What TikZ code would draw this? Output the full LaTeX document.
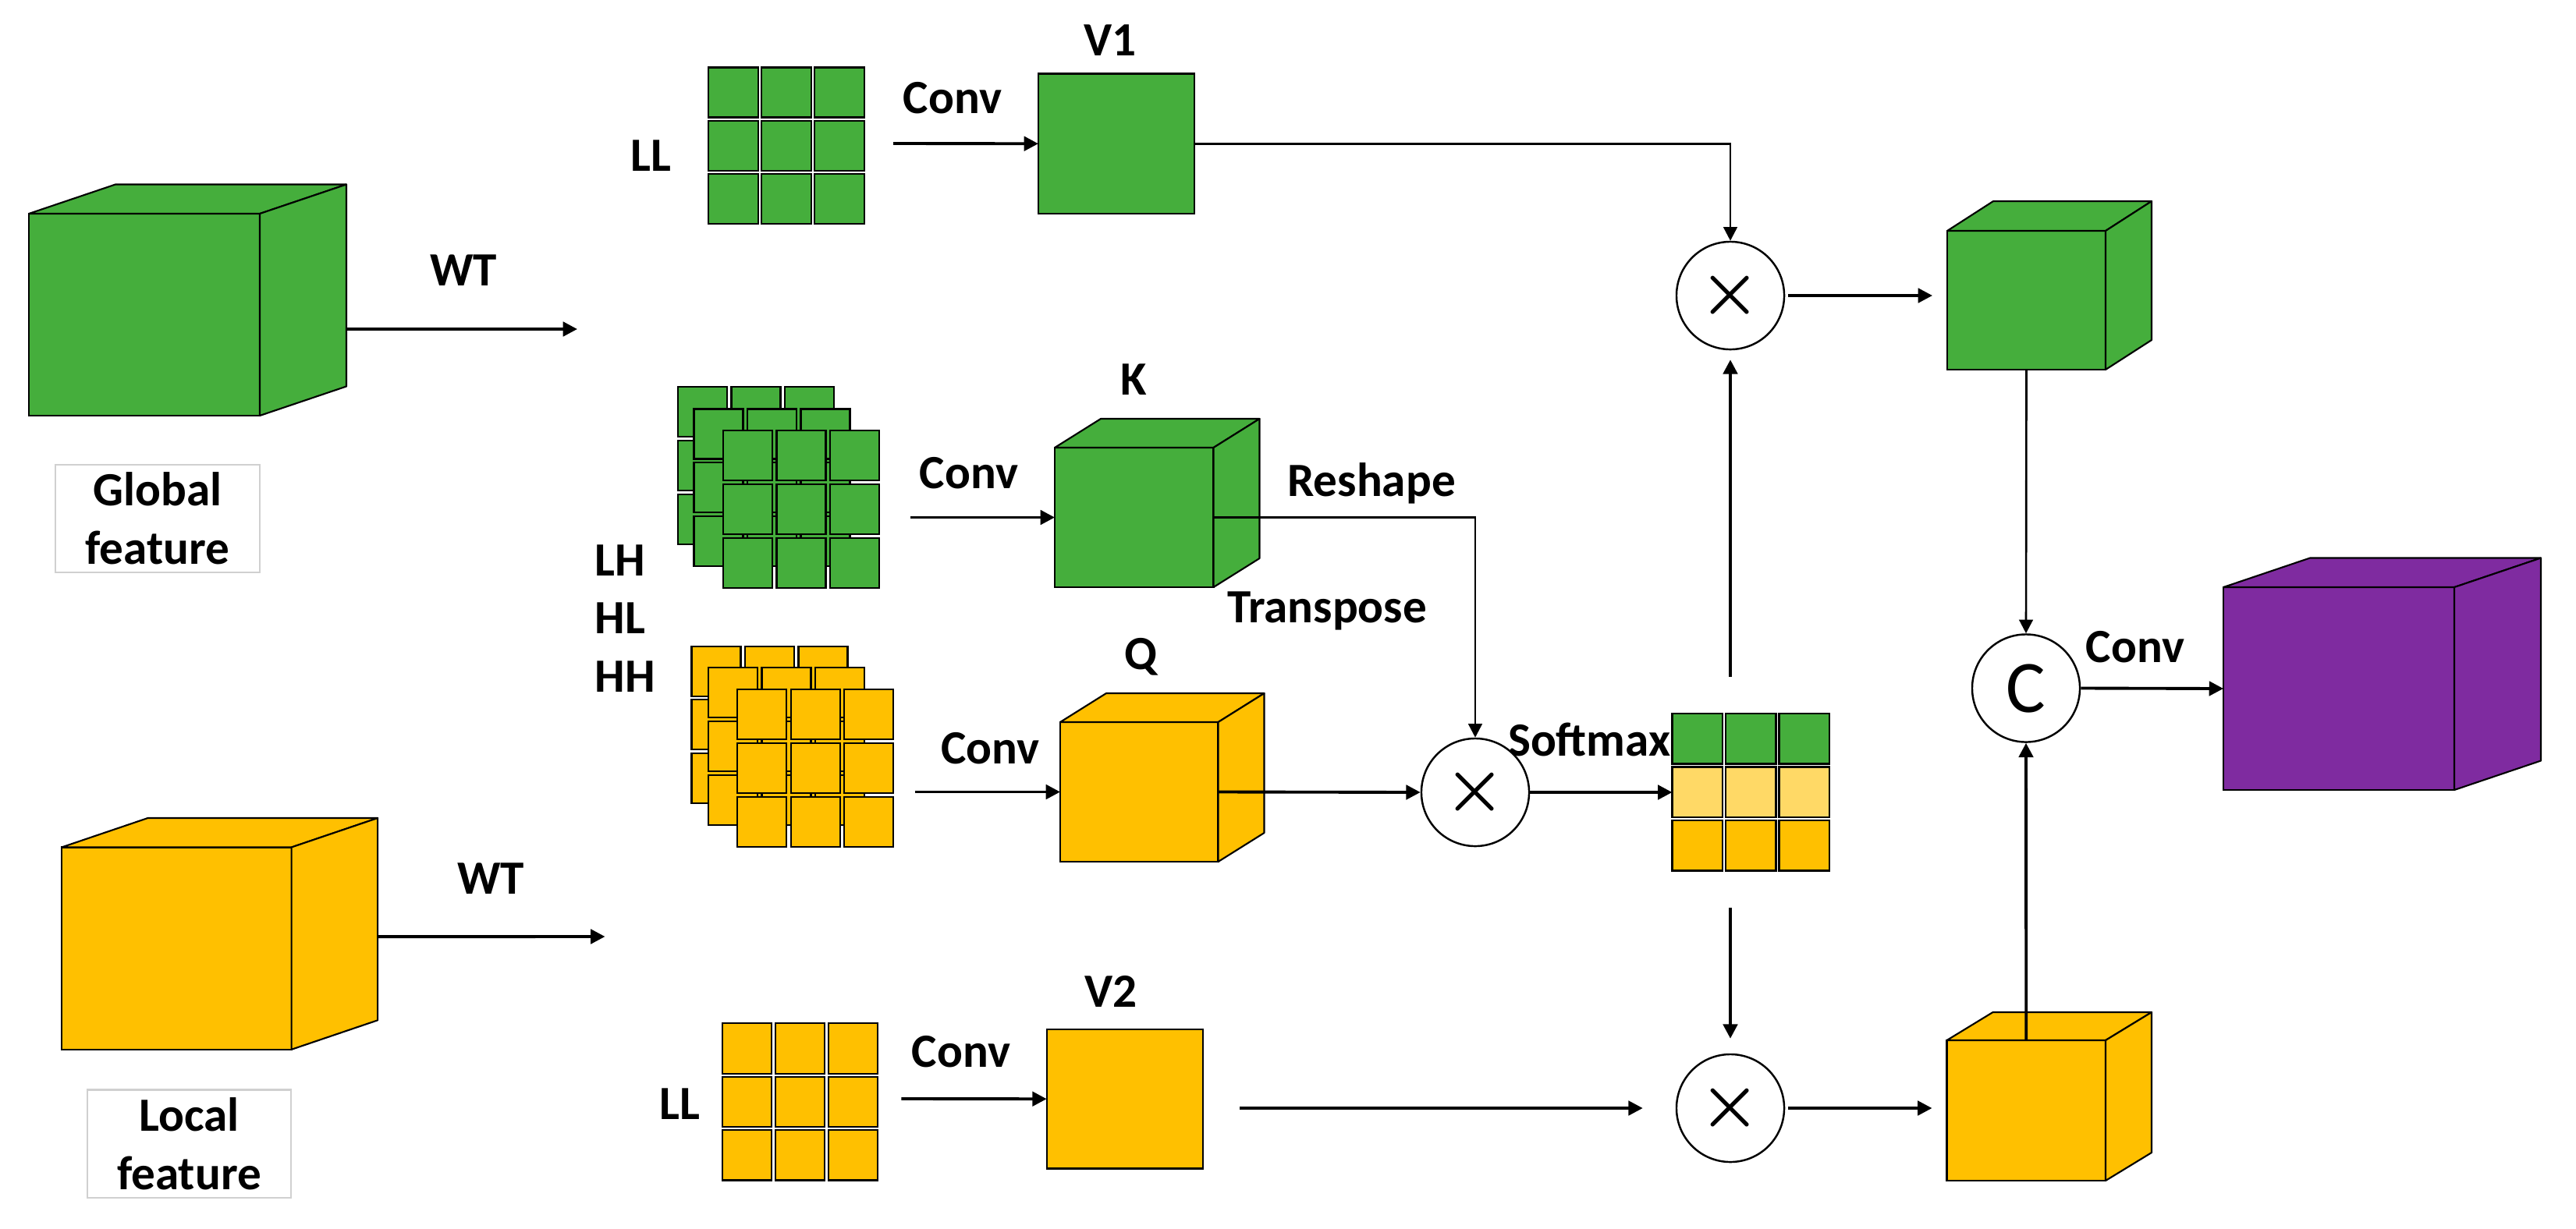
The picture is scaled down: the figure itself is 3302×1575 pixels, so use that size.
\documentclass[tikz,border=0pt]{standalone}
\usepackage{fontspec}
\setmainfont{Carlito}
\usetikzlibrary{arrows.meta,calc}
\definecolor{cgreen}{HTML}{45AE3C}
\definecolor{cyellow}{HTML}{FFC000}
\definecolor{clight}{HTML}{FFD966}
\definecolor{cpurple}{HTML}{7F2BA0}
\definecolor{cboxgray}{HTML}{D0D0D0}
\newcommand\mkcube[8]{%
  \node[facebox, fill=#8, minimum width={(#4-#2)*0.01cm}, minimum height={(#5-#3)*0.01cm}] (#1) at ({(#2+#4)/2},{(#3+#5)/2}) {};
  \draw[cubeline, fill=#8] (#1.north west) -- ++(#6,#7) -- ($(#1.north east)+(#6,#7)$) -- (#1.north east) -- cycle;
  \draw[cubeline, fill=#8] (#1.north east) -- ++(#6,#7) -- ($(#1.south east)+(#6,#7)$) -- (#1.south east) -- cycle;
}
\newcommand\mkgrid[7]{% x0, y0, pitchx, pitchy, w, h, colour
  \foreach \gi in {0,1,2}{\foreach \gj in {0,1,2}{%
    \draw[cell, fill=#7] ({#1+#3*\gi},{#2+#4*\gj}) rectangle ++(#5,#6);}}
}
\begin{document}
\begin{tikzpicture}[x=0.01cm,y=-0.01cm,
  lbl/.style={font=\fontsize{17.4}{21}\selectfont\bfseries, inner sep=0pt, anchor=base},
  facebox/.style={draw=black, line width=0.6pt, inner sep=0pt, outer sep=0pt},
  cubeline/.style={draw=black, line width=0.6pt, line join=round},
  cell/.style={draw=black, line width=0.6pt},
  arr/.style={line width=1.1pt, -{Triangle[length=5.2pt,width=5.2pt]}},
  tarr/.style={line width=0.75pt, -{Triangle[length=5pt,width=5pt]}},
  op/.style={circle, draw=black, line width=0.7pt, minimum size=1.38cm, inner sep=0pt, fill=white},
  featbox/.style={draw=cboxgray, line width=0.6pt, align=center, inner sep=0pt,
    font=\fontsize{17.4}{21.3}\selectfont\bfseries},
  mult/.style={font=\fontsize{25}{25}\selectfont\boldmath},
]
\useasboundingbox[fill=white] (0,0) rectangle (3302,1575);

% input cubes and feature boxes
\mkcube{gcube}{37}{274}{333}{533}{111}{-37.5}{cgreen}
\mkcube{lcube}{79}{1086.5}{373.6}{1345.8}{110.5}{-37.5}{cyellow}
\node[featbox, minimum width=2.62cm, minimum height=1.38cm] (gf) at (202,665) {Global\\feature};
\node[featbox, minimum width=2.6cm, minimum height=1.385cm] (lf) at (242.5,1466.8) {Local\\feature};
\node[lbl] (wt1) at (594,366.6) {WT};
\node[lbl] (wt2) at (629,1146) {WT};
\coordinate (wt1e) at (740,422);
\coordinate (wt2e) at (775.5,1201);

% wavelet sub-bands
\node[lbl] (llA) at (834,219) {LL};
\mkgrid{908}{86.5}{68}{68.3}{64}{64}{cgreen}
\node[lbl, anchor=base west] (lh) at (762,738) {LH};
\node[lbl, anchor=base west] (hl) at (762,812) {HL};
\node[lbl, anchor=base west] (hh) at (762,887.5) {HH};
\mkgrid{869}{496}{68.5}{68.8}{63}{64}{cgreen}
\mkgrid{889.5}{524.5}{68.5}{68.8}{63}{64}{cgreen}
\mkgrid{927}{552}{68.5}{68.8}{63}{64}{cgreen}
\mkgrid{886.5}{828.6}{68.5}{68.8}{63}{64}{cyellow}
\mkgrid{908}{856}{68.5}{68.8}{63}{64}{cyellow}
\mkgrid{945.4}{884}{68.5}{68.8}{63}{64}{cyellow}
\node[lbl] (llB) at (871,1435) {LL};
\mkgrid{926}{1312.4}{68}{68.3}{63}{64.5}{cyellow}

% V1, K, Q, V2
\node[facebox, fill=cgreen, minimum width=2cm, minimum height=1.795cm] (V1) at (1431,184.25) {};
\node[facebox, fill=cyellow, minimum width=1.999cm, minimum height=1.784cm] (V2) at (1441.65,1409.2) {};
\mkcube{K}{1352}{574}{1555.5}{753}{59}{-37}{cgreen}
\mkcube{Q}{1359}{926}{1561.5}{1105}{59}{-37}{cyellow}
\node[lbl] (v1l) at (1423,71) {V1};
\node[lbl] (kl) at (1453,506) {K};
\node[lbl] (ql) at (1462.7,858) {Q};
\node[lbl] (v2l) at (1424,1291.5) {V2};
\node[lbl] (cv1) at (1221,145) {Conv};
\node[lbl] (cv2) at (1242,626) {Conv};
\node[lbl] (cv3) at (1269.5,979) {Conv};
\node[lbl] (cv4) at (1232,1368.5) {Conv};
\node[lbl] (resh) at (1758,636) {Reshape};
\node[lbl] (trans) at (1701,798) {Transpose};
\coordinate (c1) at (1145,184);
\coordinate (c2) at (1167,663.5);
\coordinate (c3) at (1172.7,1015.5);
\coordinate (c4) at (1155.4,1409);

% attention map
\foreach \gj/\col in {0/cgreen,1/clight,2/cyellow}{
  \foreach \gi in {0,1,2}{
    \draw[cell, fill=\col] ({2143.5+68.5*\gi},{915+68.5*\gj}) rectangle ++(64.5,64.5);}}
\node[minimum width=2.02cm, minimum height=2.02cm, inner sep=0pt, outer sep=0pt] (smx) at (2244.5,1016) {};
\node[lbl, anchor=base east] (smxl) at (2142,969) {Softmax};

% operators
\node[op] (mTop) at (2218,379) {};
\node[op] (mMid) at (1891,1016) {};
\node[op] (mBot) at (2218,1421) {};
\node[op] (cat) at (2597,882.5) {};
\node[mult] at (mTop) {$\times$};
\node[mult] at (mMid) {$\times$};
\node[mult] at (mBot) {$\times$};
\node[font=\fontsize{27}{27}\selectfont, inner sep=0pt] at (cat) {C};
\coordinate (up0) at (2218,868);
\coordinate (dn0) at (2218,1164);
\coordinate (v2s) at (1589,1421);

% output cubes
\mkcube{outG}{2496}{296}{2699}{474}{59}{-38}{cgreen}
\mkcube{outY}{2495.5}{1334}{2699}{1514}{59}{-36}{cyellow}
\mkcube{outP}{2850}{753}{3146}{1013}{111}{-37.5}{cpurple}
\node[lbl] (cv5) at (2737,849) {Conv};

% connectors
\draw[arr] ($(gcube.east)+(111,18.5)$) -- (wt1e);
\draw[arr] ($(lcube.east)+(110.5,-15)$) -- (wt2e);
\draw[arr] (c1) -- (V1.west);
\draw[arr] (c2) -- (K.west);
\draw[arr] (c3) -- (Q.west);
\draw[arr] (c4) -- (V2.west);
\draw[tarr] (V1.east) -| (mTop.north);
\draw[tarr] (K.east) -| (mMid.north);
\draw[arr] (Q.east) -- (mMid.west);
\draw[arr] (mMid.east) -- (smx.west);
\draw[arr] (up0) -- ($(mTop.south)+(0,12)$);
\draw[arr] (dn0) -- ($(mBot.north)+(0,-19)$);
\draw[arr] (v2s) -- ($(mBot.west)+(-42,0)$);
\draw[arr] ($(mTop.east)+(4,0)$) -- ($(outG.west |- mTop.east)+(-19,0)$);
\draw[arr] ($(mBot.east)+(4,0)$) -- ($(outY.west |- mBot.east)+(-19,0)$);
\draw[tarr] (outG.south) -- (cat.north);
\draw[arr] (outY.north) -- (cat.south);
\draw[arr] (cat.east) -- (outP.west);
\end{tikzpicture}
\end{document}
